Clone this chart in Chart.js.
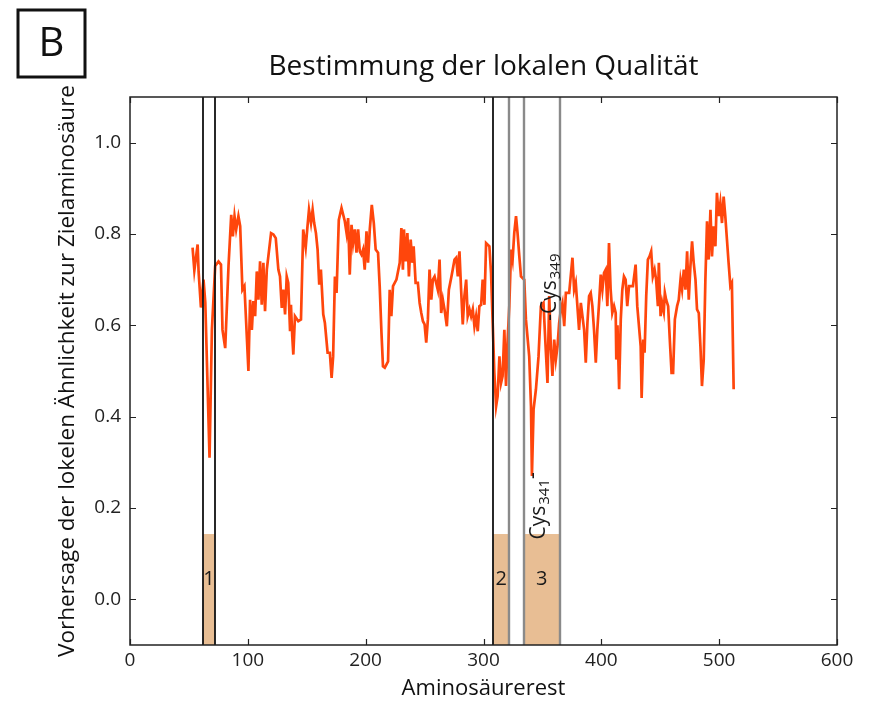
<!DOCTYPE html>
<html>
<head>
<meta charset="utf-8">
<script src="https://cdn.jsdelivr.net/npm/chart.js@4/dist/chart.umd.min.js"></script>
<style>
  html, body { margin: 0; padding: 0; background: #ffffff; }
  #wrap { width: 874px; height: 702px; }
</style>
</head>
<body>
<div id="wrap"><canvas id="c" width="874" height="702"></canvas></div>
<script>
// ---- data ----
const chartTitle = "Bestimmung der lokalen Qualität";
const xAxisTitle = "Aminosäurerest";
const yAxisTitle = "Vorhersage der lokelen Ähnlichkeit zur Zielaminosäure";
const panelLetter = "B";

const xTicks = [0, 100, 200, 300, 400, 500, 600];
const yTicks = [0.0, 0.2, 0.4, 0.6, 0.8, 1.0];

const residue = [
  53.1,54.6,57.4,58.2,60.2,62.4,63.9,67.5,69.5,72.3,75.1,77.2,78.5,80.8,83.6,85.9,87.3,88.7,90.1,92.0,
  93.5,95.4,97.1,98.6,100.5,101.9,103.4,104.7,106.2,107.6,109.0,110.4,111.8,113.2,114.6,116.1,119.7,121.7,123.7,125.9,
  127.3,128.8,130.1,131.6,133.0,134.3,135.8,136.6,137.7,138.6,140.0,142.8,145.1,147.0,149.1,150.4,151.9,153.6,155.0,156.3,
  157.8,159.2,160.6,162.0,164.0,165.4,167.7,169.6,171.1,172.4,173.9,175.3,177.2,179.5,182.3,183.8,185.1,186.5,188.0,189.3,
  190.8,192.2,193.6,195.0,196.4,197.8,199.2,200.7,202.0,203.5,205.2,206.9,208.5,210.5,211.9,213.4,214.7,216.2,217.6,219.0,
  220.4,221.8,223.2,226.1,228.9,230.3,231.6,232.5,233.9,235.4,236.7,238.2,239.6,240.7,242.4,244.3,245.8,247.2,248.6,250.0,
  251.4,252.8,254.2,255.7,257.0,258.5,261.2,262.7,264.1,265.5,266.9,268.9,270.6,272.6,273.9,275.4,276.8,278.2,279.6,281.0,
  282.4,283.8,285.3,286.6,288.1,289.5,290.9,292.3,293.7,295.1,296.5,298.0,299.3,300.8,302.2,305.0,306.4,307.8,309.2,310.7,
  312.0,313.5,314.9,316.2,317.7,319.1,320.5,321.9,323.4,324.7,326.1,327.6,328.9,330.4,331.8,334.6,336.0,338.8,340.3,341.1,
  342.5,344.5,346.7,348.7,350.9,352.4,354.3,355.8,357.2,358.5,360.0,361.4,362.8,364.2,365.7,367.0,368.5,369.9,372.7,375.5,
  376.9,378.3,381.1,382.6,385.4,386.8,388.2,389.6,391.0,392.4,393.8,395.3,396.6,398.1,399.5,400.9,402.3,403.7,405.1,406.5,
  407.9,409.3,410.8,412.2,412.7,413.7,415.1,416.5,417.8,419.2,420.6,422.0,423.5,424.9,426.8,429.1,430.5,433.4,434.2,435.6,
  436.7,438.1,439.5,440.9,442.3,443.7,445.2,446.5,448.0,448.8,450.3,451.6,453.0,453.9,455.0,456.7,458.1,459.6,460.9,462.4,
  464.3,465.7,467.2,468.5,470.0,471.4,472.8,474.2,475.6,477.0,478.4,479.9,481.2,482.7,484.1,485.4,486.9,488.3,489.7,491.1,
  492.6,493.9,495.3,496.8,498.1,499.6,501.0,502.4,503.8,505.2,506.6,508.0,509.5,510.8,512.3
];
const similarity = [
  0.770,0.720,0.777,0.718,0.639,0.700,0.650,0.310,0.590,0.730,0.740,0.733,0.590,0.550,0.730,0.842,0.795,0.839,0.810,0.839,
  0.817,0.678,0.686,0.605,0.500,0.656,0.590,0.653,0.620,0.718,0.656,0.740,0.645,0.737,0.631,0.722,0.802,0.799,0.791,0.722,
  0.707,0.638,0.678,0.624,0.707,0.693,0.590,0.645,0.576,0.536,0.620,0.609,0.613,0.810,0.770,0.810,0.853,0.824,0.853,0.824,
  0.802,0.766,0.689,0.722,0.624,0.605,0.540,0.540,0.485,0.532,0.707,0.671,0.831,0.857,0.828,0.802,0.835,0.711,0.820,0.780,
  0.810,0.759,0.810,0.762,0.755,0.766,0.722,0.806,0.737,0.810,0.864,0.824,0.766,0.759,0.686,0.584,0.510,0.507,0.514,0.521,
  0.678,0.620,0.686,0.700,0.737,0.813,0.722,0.810,0.740,0.802,0.707,0.788,0.737,0.773,0.693,0.693,0.649,0.627,0.609,0.602,
  0.562,0.613,0.722,0.656,0.700,0.707,0.678,0.744,0.627,0.656,0.635,0.598,0.678,0.704,0.722,0.744,0.748,0.707,0.762,0.678,
  0.602,0.664,0.700,0.620,0.635,0.620,0.635,0.598,0.620,0.587,0.642,0.645,0.700,0.645,0.780,0.773,0.715,0.605,0.496,0.423,
  0.445,0.532,0.474,0.489,0.590,0.467,0.569,0.642,0.766,0.744,0.802,0.839,0.802,0.751,0.707,0.700,0.613,0.532,0.423,0.270,
  0.416,0.460,0.532,0.642,0.649,0.569,0.474,0.664,0.547,0.489,0.569,0.525,0.554,0.605,0.635,0.649,0.598,0.671,0.671,0.748,
  0.678,0.693,0.590,0.649,0.590,0.518,0.605,0.664,0.671,0.642,0.590,0.518,0.590,0.649,0.711,0.678,0.715,0.722,0.642,0.780,
  0.678,0.627,0.642,0.627,0.525,0.600,0.460,0.613,0.678,0.707,0.700,0.642,0.686,0.686,0.686,0.733,0.642,0.554,0.441,0.569,
  0.540,0.664,0.744,0.751,0.762,0.707,0.722,0.700,0.642,0.737,0.620,0.649,0.630,0.671,0.656,0.642,0.569,0.496,0.496,0.613,
  0.642,0.656,0.700,0.678,0.722,0.678,0.762,0.656,0.729,0.784,0.737,0.700,0.635,0.627,0.554,0.467,0.525,0.700,0.828,0.744,
  0.853,0.751,0.817,0.773,0.890,0.839,0.868,0.824,0.882,0.839,0.788,0.737,0.686,0.693,0.460
];

// marked regions (residue ranges)
const regionStart = [62, 308, 334];
const regionEnd   = [72, 322, 365];
const regionLabel = ["1", "2", "3"];
const shadeTop = 0.143;          // height of the shaded boxes
const labelY = 0.044;            // y position of region numbers
// boundary lines: residue and colour kind
const boundaryX = [62, 72, 308, 322, 334, 365];
const boundaryKind = ["dark", "dark", "dark", "grey", "grey", "grey"];

// rotated annotations
const annotations = [
  { main: "Cys", sub: "341", tail: "-", lead: "", x: 352.5, y: 0.131 },
  { main: "Cys", sub: "349", tail: "", lead: "-", x: 361.5, y: 0.610 }
];

// ---- styling ----
const FONT = '"Open Sans", "Noto Sans", sans-serif';
const lineColor = 'rgb(255,70,12)';
const shadeColor = 'rgb(232,190,148)';
const darkLine = '#111111';
const greyLine = '#8a8a8a';

const points = residue.map((r, i) => ({ x: r, y: similarity[i] }));

const overlay = {
  id: 'overlay',
  beforeDatasetsDraw(chart) {
    const { ctx, chartArea: a, scales: { x, y } } = chart;
    ctx.save();
    ctx.fillStyle = shadeColor;
    const yt = y.getPixelForValue(shadeTop);
    regionStart.forEach((s, i) => {
      const x0 = x.getPixelForValue(s), x1 = x.getPixelForValue(regionEnd[i]);
      ctx.fillRect(x0, yt, x1 - x0, a.bottom - yt);
    });
    ctx.restore();
  },
  afterDatasetsDraw(chart) {
    const { ctx, chartArea: a, scales: { x, y } } = chart;
    ctx.save();
    // boundary lines
    boundaryX.forEach((v, i) => {
      const px = Math.round(x.getPixelForValue(v));
      const dark = boundaryKind[i] === 'dark';
      ctx.strokeStyle = dark ? darkLine : greyLine;
      ctx.lineWidth = dark ? 1.8 : 2.4;
      ctx.beginPath(); ctx.moveTo(px, a.top); ctx.lineTo(px, a.bottom); ctx.stroke();
    });
    // region numbers
    ctx.fillStyle = '#1a1a1a';
    ctx.font = '20px ' + FONT;
    ctx.textAlign = 'center'; ctx.textBaseline = 'middle';
    regionLabel.forEach((t, i) => {
      const cx = x.getPixelForValue((regionStart[i] + regionEnd[i]) / 2);
      ctx.fillText(t, cx, y.getPixelForValue(labelY));
    });
    // rotated annotations
    annotations.forEach(an => {
      ctx.save();
      ctx.translate(x.getPixelForValue(an.x), y.getPixelForValue(an.y));
      ctx.rotate(-Math.PI / 2);
      ctx.textAlign = 'left'; ctx.textBaseline = 'alphabetic';
      let cx = 0;
      ctx.font = '21px ' + FONT;
      if (an.lead) { ctx.fillText(an.lead, cx, 0); cx += ctx.measureText(an.lead).width; }
      ctx.fillText(an.main, cx, 0); cx += ctx.measureText(an.main).width + 1;
      ctx.font = '15px ' + FONT;
      ctx.fillText(an.sub, cx, 4); cx += ctx.measureText(an.sub).width;
      ctx.font = '21px ' + FONT;
      if (an.tail) ctx.fillText(an.tail, cx, -6);
      ctx.restore();
    });
    // frame
    ctx.strokeStyle = '#222'; ctx.lineWidth = 1.5;
    ctx.strokeRect(a.left, a.top, a.right - a.left, a.bottom - a.top);
    // inward ticks
    ctx.lineWidth = 1.2;
    xTicks.forEach(v => {
      const px = Math.round(x.getPixelForValue(v)) + 0.5;
      ctx.beginPath();
      ctx.moveTo(px, a.bottom); ctx.lineTo(px, a.bottom - 6);
      ctx.moveTo(px, a.top); ctx.lineTo(px, a.top + 6);
      ctx.stroke();
    });
    yTicks.forEach(v => {
      const py = Math.round(y.getPixelForValue(v)) + 0.5;
      ctx.beginPath();
      ctx.moveTo(a.left, py); ctx.lineTo(a.left + 6, py);
      ctx.moveTo(a.right, py); ctx.lineTo(a.right - 6, py);
      ctx.stroke();
    });
    // title
    ctx.fillStyle = '#111';
    ctx.font = '28px ' + FONT;
    ctx.textAlign = 'center'; ctx.textBaseline = 'middle';
    ctx.fillText(chartTitle, (a.left + a.right) / 2, 67);
    // panel letter box
    ctx.lineWidth = 3; ctx.strokeStyle = '#111';
    ctx.strokeRect(18, 10, 67, 67);
    ctx.font = '40px ' + FONT;
    ctx.fillText(panelLetter, 51.5, 45);
    ctx.restore();
  }
};

new Chart(document.getElementById('c'), {
  type: 'line',
  data: {
    datasets: [{
      data: points,
      borderColor: lineColor,
      borderWidth: 2.7,
      pointRadius: 0,
      tension: 0,
      fill: false
    }]
  },
  options: {
    responsive: false,
    animation: false,
    layout: { padding: { top: 97, right: 37, left: 0, bottom: 0 } },
    plugins: { legend: { display: false }, tooltip: { enabled: false }, title: { display: false } },
    scales: {
      x: {
        type: 'linear', min: 0, max: 600,
        afterBuildTicks: s => { s.ticks = xTicks.map(v => ({ value: v })); },
        afterFit: s => { s.height = 57; },
        grid: { display: false, drawTicks: false },
        border: { display: false },
        ticks: { color: '#222', font: { family: FONT, size: 19 }, padding: 4, maxRotation: 0 },
        title: { display: true, text: xAxisTitle, color: '#111', font: { family: FONT, size: 22 }, padding: { top: 0, bottom: 0 } }
      },
      y: {
        type: 'linear', min: -0.1, max: 1.1,
        afterBuildTicks: s => { s.ticks = yTicks.map(v => ({ value: v })); },
        afterFit: s => { s.width = 130; },
        grid: { display: false, drawTicks: false },
        border: { display: false },
        ticks: { color: '#222', font: { family: FONT, size: 19 }, padding: 9, callback: v => v.toFixed(1) },
        title: { display: true, text: yAxisTitle, color: '#111', font: { family: FONT, size: 22.5 }, padding: { top: 54, bottom: 0 } }
      }
    }
  },
  plugins: [overlay]
});
</script>
</body>
</html>
